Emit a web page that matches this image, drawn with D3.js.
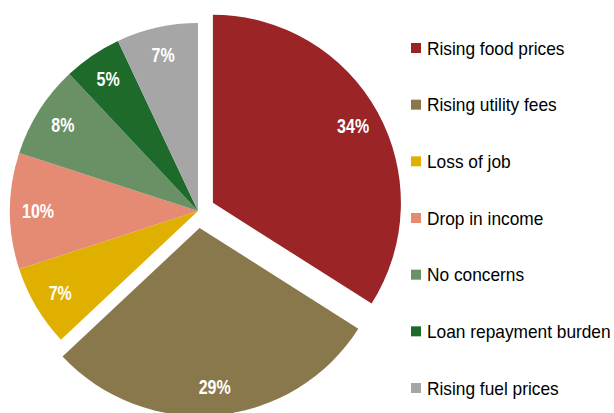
<!DOCTYPE html>
<html>
<head>
<meta charset="utf-8">
<script src="https://cdn.jsdelivr.net/npm/d3@7"></script>
<style>
  html, body { margin: 0; padding: 0; background: #ffffff; }
</style>
</head>
<body>
<svg id="chart" width="614" height="413"></svg>
<script>
const categories = ['Rising food prices', 'Rising utility fees', 'Loss of job', 'Drop in income',
    'No concerns', 'Loan repayment burden', 'Rising fuel prices'];
const shares = [34, 29, 7, 10, 8, 5, 7];
const colors = ['#9a2426', '#8a784d', '#e0b000', '#e58a73', '#6a9065', '#1e6a2b', '#a6a6a6'];
const exploded = ['Rising food prices', 'Rising utility fees'];

const data = categories.map((c, i) => ({ label: c, value: shares[i], color: colors[i] }));

const svg = d3.select('#chart'),
    cx = 198,
    cy = 211,
    radius = 188,
    explodeDist = 17,
    labelRadius = 160;

const pie = d3.pie().sort(null).value(d => d.value);
const arc = d3.arc().innerRadius(0).outerRadius(radius);
const arcs = pie(data);

function offset(d) {
    if (exploded.indexOf(d.data.label) < 0) return [0, 0];
    const mid = (d.startAngle + d.endAngle) / 2;
    return [Math.sin(mid) * explodeDist, -Math.cos(mid) * explodeDist];
}

const g = svg.append('g')
    .attr('transform', 'translate(' + cx + ',' + cy + ')');

// Slices
g.selectAll('path')
    .data(arcs)
    .enter()
    .append('path')
    .attr('d', arc)
    .attr('transform', d => 'translate(' + offset(d)[0] + ',' + offset(d)[1] + ')')
    .style('fill', d => d.data.color);

// Percent labels
const labelArc = d3.arc().innerRadius(labelRadius).outerRadius(labelRadius);
g.selectAll('text.pct')
    .data(arcs)
    .enter()
    .append('text')
    .attr('class', 'pct')
    .attr('transform', d => {
        const p = labelArc.centroid(d), o = offset(d);
        return 'translate(' + (p[0] + o[0]) + ',' + (p[1] + o[1]) + ') scale(1,1.25)';
    })
    .attr('text-anchor', 'middle')
    .attr('dy', '0.36em')
    .style('font-family', 'Liberation Sans, Arial, sans-serif')
    .style('font-weight', 'bold')
    .style('font-size', '16px')
    .style('fill', '#ffffff')
    .text(d => d.data.value + '%');

// Legend
const legendY = d3.scalePoint().domain(categories).range([48, 388]);
const legend = svg.append('g');

legend.selectAll('rect')
    .data(data)
    .enter()
    .append('rect')
    .attr('x', 411)
    .attr('y', d => legendY(d.label) - 5)
    .attr('width', 10)
    .attr('height', 10)
    .style('fill', d => d.color);

legend.selectAll('text')
    .data(data)
    .enter()
    .append('text')
    .attr('transform', d => 'translate(427,' + legendY(d.label) + ') scale(1,1.07)')
    .attr('dy', '0.36em')
    .style('font-family', 'Liberation Sans, Arial, sans-serif')
    .style('font-size', '17.3px')
    .style('fill', '#000000')
    .text(d => d.label);
</script>
</body>
</html>
